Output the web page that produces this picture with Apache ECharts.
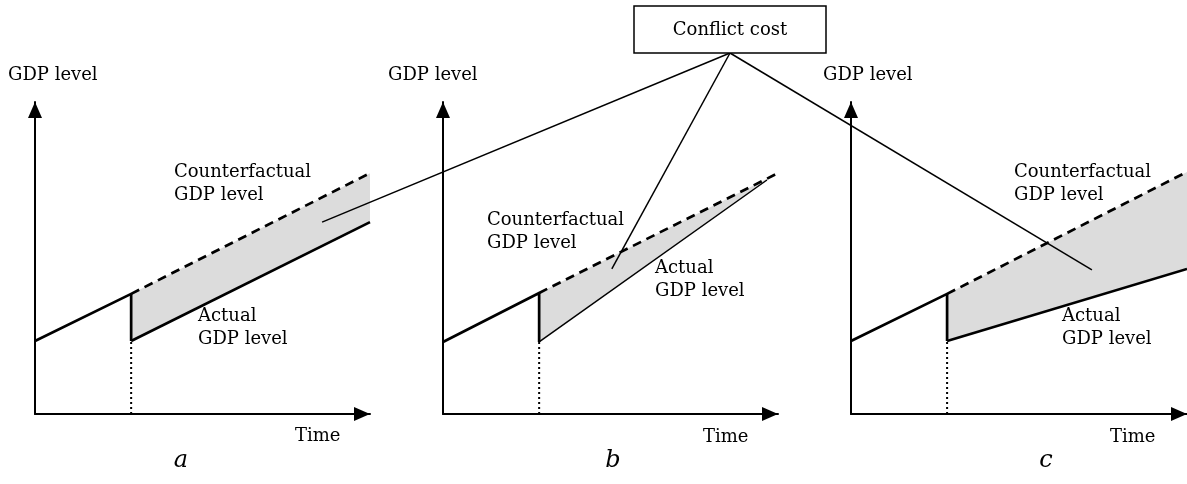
<!DOCTYPE html>
<html>
<head>
<meta charset="utf-8">
<title>Conflict cost</title>
<script src="https://cdn.jsdelivr.net/npm/echarts@6/dist/echarts.min.js"></script>
<style>
    html, body { margin: 0; padding: 0; background: #fff; }
    #main { width: 1187px; height: 484px; }
</style>
</head>
<body>
<div id="main"></div>
<script>
    // x = time, y = GDP level, both 0..100 in every panel
    // panel a: level drop, growth unchanged
    var aBefore = [[0, 23.4], [28.7, 38.5]];
    var aAfter = [[28.7, 23.4], [100, 61.5]];
    var aCounter = [[28.7, 38.5], [100, 77.2]];
    var aPointer = [85.7, 61.5];

    // panel b: level drop, then catch-up
    var bBefore = [[0, 23.1], [28.7, 38.8]];
    var bAfter = [[28.7, 23.1], [96.7, 75.0]];
    var bCounter = [[28.7, 38.8], [100, 77.2]];
    var bPointer = [50.4, 46.5];

    // panel c: level drop and slower growth
    var cBefore = [[0, 23.4], [28.6, 38.5]];
    var cAfter = [[28.6, 23.4], [100, 46.5]];
    var cCounter = [[28.6, 38.5], [100, 77.6]];
    var cPointer = [71.7, 46.2];

    var panelNames = ['a', 'b', 'c'];

    var FONT = '"DejaVu Serif", Georgia, serif';
    var panels = [
        {before: aBefore, after: aAfter, counter: aCounter, pointer: aPointer, afterWidth: 2.7},
        {before: bBefore, after: bAfter, counter: bCounter, pointer: bPointer, afterWidth: 1.5},
        {before: cBefore, after: cAfter, counter: cCounter, pointer: cPointer, afterWidth: 2.7}
    ];

    // layout of the three panels (pixels)
    var grids = [
        {left: 35, top: 102, width: 335, height: 312},
        {left: 443, top: 102, width: 335, height: 312},
        {left: 851, top: 102, width: 336, height: 312}
    ];
    // label positions per panel: y-axis name, counterfactual, actual, time, panel letter
    var labelPos = [
        {gdp: [8, 75], cf: [174, 172], act: [198, 316], time: [295, 436], letter: [181, 461]},
        {gdp: [388, 75], cf: [487, 220], act: [655, 268], time: [703, 437], letter: [613, 461]},
        {gdp: [823, 75], cf: [1014, 172], act: [1062, 316], time: [1110, 437], letter: [1046, 461]}
    ];

    function axisOpt(i) {
        return {
            type: 'value',
            gridIndex: i,
            min: 0,
            max: 100,
            axisLine: {
                show: true,
                lineStyle: {color: '#000', width: 2},
                symbol: ['none', 'triangle'],
                symbolSize: [14, 16],
                symbolOffset: [0, -8]
            },
            axisTick: {show: false},
            axisLabel: {show: false},
            splitLine: {show: false}
        }
    }

    var xAxes = [], yAxes = [], series = [], graphic = [];

    panels.forEach(function (p, i) {
        xAxes.push(axisOpt(i));
        yAxes.push(axisOpt(i));

        // shaded conflict cost area between counterfactual and actual path
        series.push({
            type: 'custom',
            xAxisIndex: i,
            yAxisIndex: i,
            z: 1,
            silent: true,
            data: [0],
            renderItem: function (params, api) {
                var pts = [p.counter[0], p.counter[1], p.after[1], p.after[0]].map(function (d) {
                    return api.coord(d);
                });
                return {
                    type: 'polygon',
                    shape: {points: pts},
                    style: {fill: '#dcdcdc', stroke: null}
                };
            }
        });

        var base = {type: 'line', xAxisIndex: i, yAxisIndex: i, symbol: 'none', clip: false, silent: true, z: 3};
        // actual path before the shock and the drop
        series.push(Object.assign({}, base, {
            data: [p.before[0], p.before[1], p.after[0]],
            lineStyle: {color: '#000', width: 2.7}
        }));
        // actual path after the shock
        series.push(Object.assign({}, base, {
            data: p.after,
            lineStyle: {color: '#000', width: p.afterWidth}
        }));
        // counterfactual path
        series.push(Object.assign({}, base, {
            data: p.counter,
            lineStyle: {color: '#000', width: 2.7, type: [9, 6]}
        }));
        // dotted marker of the shock date
        series.push(Object.assign({}, base, {
            data: [[p.after[0][0], 0], p.after[0]],
            lineStyle: {color: '#000', width: 2, type: [2, 3]}
        }));

        var lp = labelPos[i];
        var txt = function (id, pos, text, extra) {
            graphic.push({
                type: 'text', id: id, x: pos[0], y: pos[1], z: 10, silent: true,
                style: Object.assign({
                    text: text,
                    font: '18px ' + FONT,
                    fill: '#000',
                    verticalAlign: 'middle',
                    lineHeight: 23
                }, extra || {})
            });
        };
        txt('gdp' + i, lp.gdp, 'GDP level');
        txt('cf' + i, [lp.cf[0], lp.cf[1] - 11.5], 'Counterfactual\nGDP level', {verticalAlign: 'top'});
        txt('act' + i, [lp.act[0], lp.act[1] - 11.5], 'Actual\nGDP level', {verticalAlign: 'top'});
        txt('time' + i, lp.time, 'Time');
        txt('letter' + i, lp.letter, panelNames[i], {font: 'italic 24px ' + FONT, align: 'center'});
    });

    // box in the middle at the top
    graphic.push({
        type: 'rect', id: 'box', z: 20, silent: true,
        shape: {x: 634, y: 6, width: 192, height: 47},
        style: {fill: '#fff', stroke: '#000', lineWidth: 1.5}
    });
    graphic.push({
        type: 'text', id: 'boxText', z: 21, x: 730, y: 30, silent: true,
        style: {text: 'Conflict cost', font: '18px ' + FONT, fill: '#000', align: 'center', verticalAlign: 'middle'}
    });

    var myChart = echarts.init(document.getElementById('main'), null, {renderer: 'canvas'});
    myChart.setOption({
        animation: false,
        backgroundColor: '#fff',
        grid: grids,
        xAxis: xAxes,
        yAxis: yAxes,
        series: series,
        graphic: graphic
    });

    // leader lines from the box to each shaded area
    var origin = [730, 53];
    var leaders = panels.map(function (p, i) {
        var end = myChart.convertToPixel({gridIndex: i}, p.pointer);
        return {
            type: 'line', id: 'leader' + i, z: 15, silent: true,
            shape: {x1: origin[0], y1: origin[1], x2: end[0], y2: end[1]},
            style: {stroke: '#000', lineWidth: 1.5}
        };
    });
    myChart.setOption({graphic: leaders});
</script>
</body>
</html>
